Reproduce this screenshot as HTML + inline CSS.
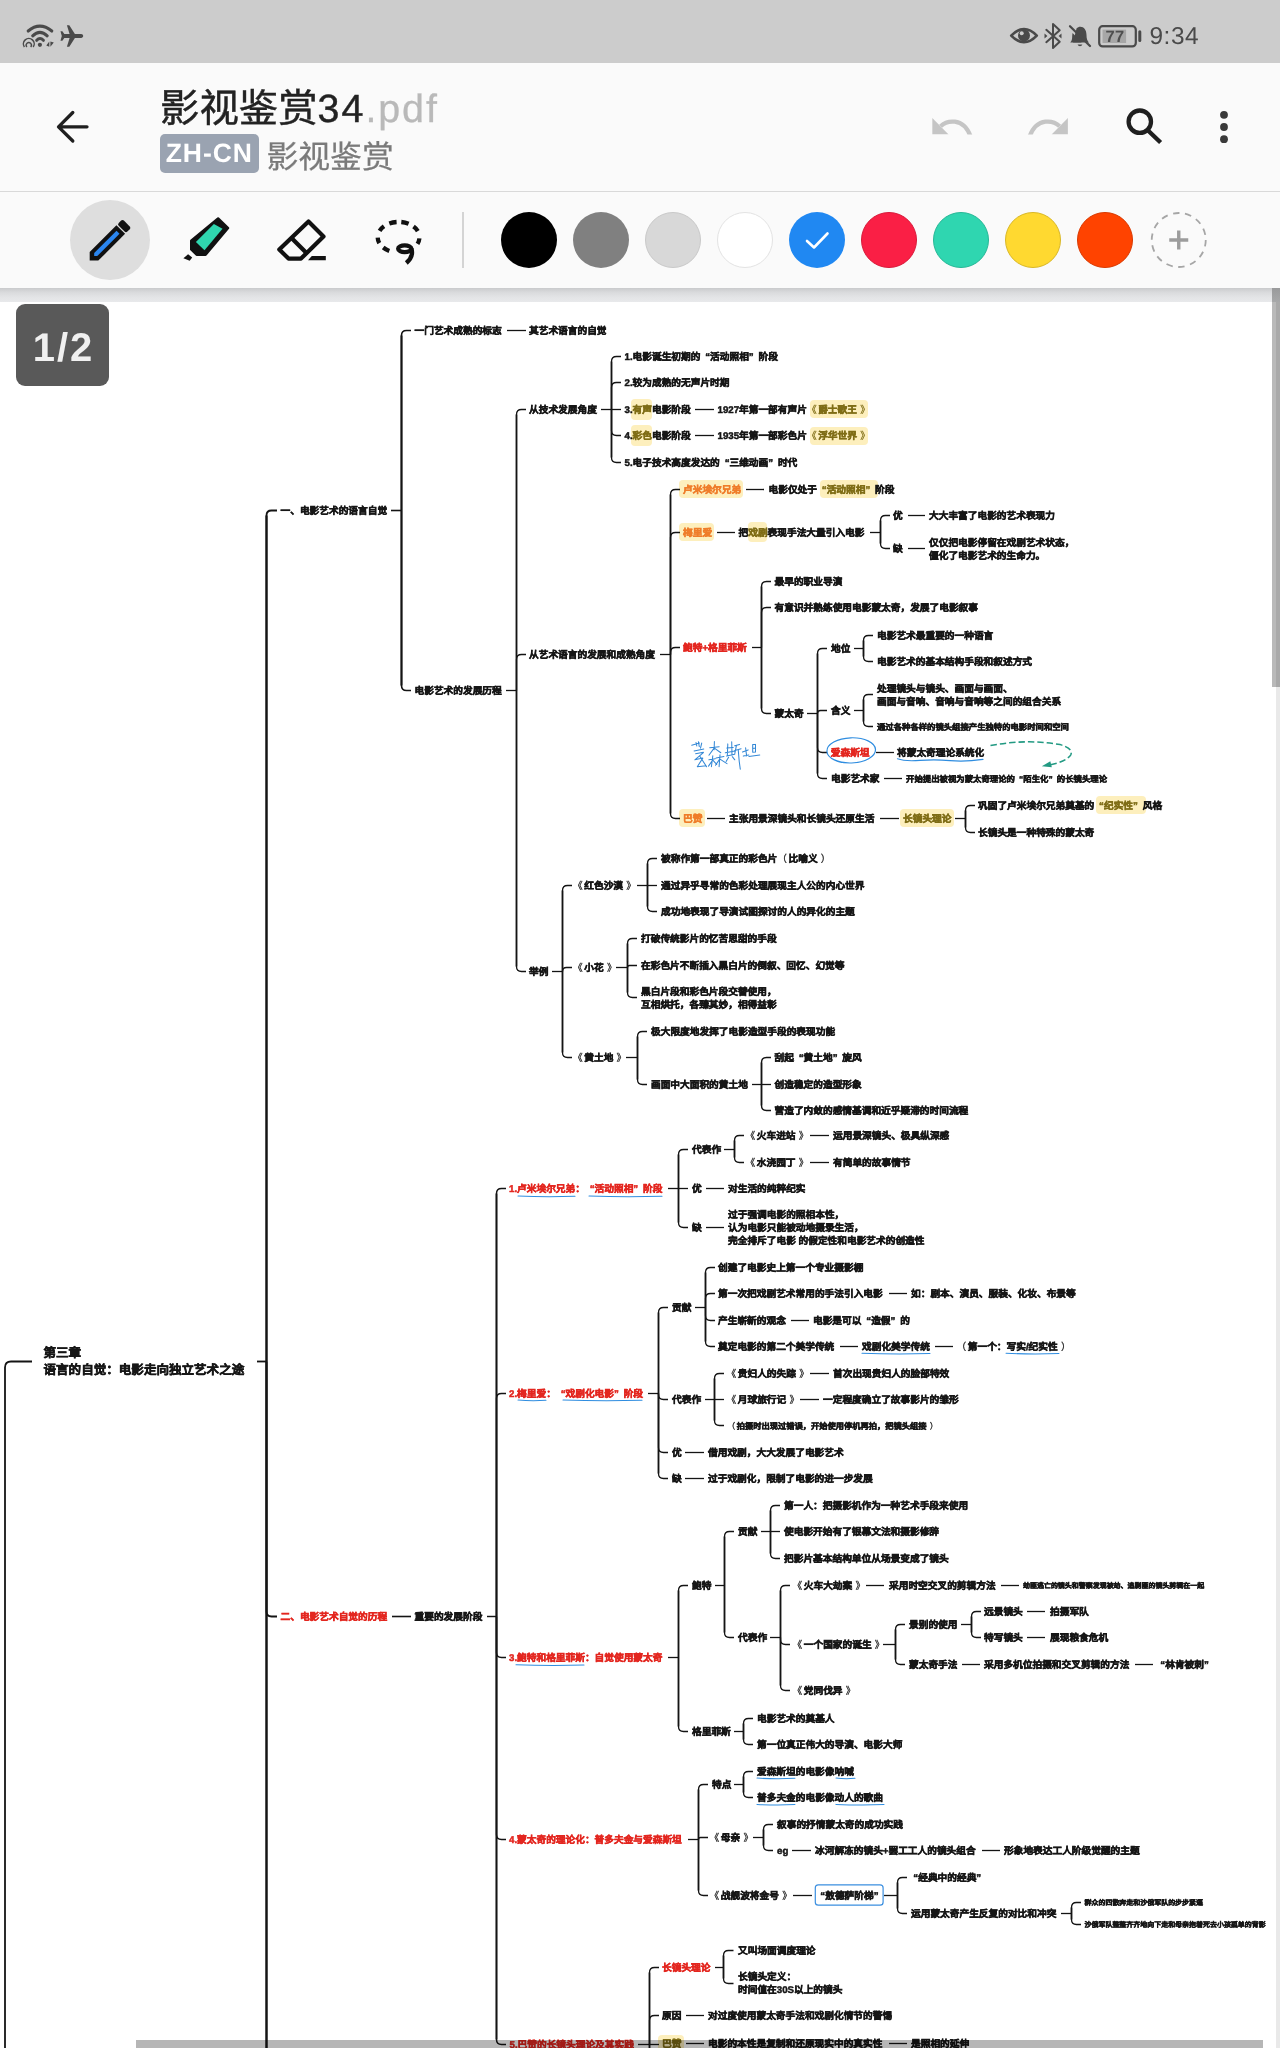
<!DOCTYPE html>
<html lang="zh-CN"><head><meta charset="utf-8"><title>影视鉴赏34.pdf</title>
<style>

*{margin:0;padding:0;box-sizing:border-box}
html,body{width:1280px;height:2048px;overflow:hidden;background:#fff;font-family:"Liberation Sans",sans-serif;text-rendering:geometricPrecision;-webkit-font-smoothing:antialiased}
#app{position:relative;width:1280px;height:2048px;overflow:hidden;background:#fff;will-change:transform}
.abs{position:absolute}
#status{left:0;top:0;width:1280px;height:63px;background:#cccccc}
#header{left:0;top:63px;width:1280px;height:128px;background:#fafafa}
#hsep{left:0;top:191px;width:1280px;height:1px;background:#d9d9d9}
#tools{left:0;top:192px;width:1280px;height:96px;background:#fafafa}
#shadow{left:0;top:288px;width:1280px;height:14px;background:linear-gradient(#c9cacc,#d9dadc 30%,#e3e4e6 65%,#e8e9eb)}
#title{left:160px;top:85px;font-size:39.4px;line-height:48px;color:#222;white-space:nowrap;-webkit-text-stroke:.45px #222}
#title .num{letter-spacing:2px}
.cj{display:inline-block;text-align:justify;text-align-last:justify;white-space:nowrap;vertical-align:top}
#title .ext{color:#b9b9b9;-webkit-text-stroke:.3px #b9b9b9;letter-spacing:1.9px}
#badge{left:160px;top:134px;width:98.5px;height:38.5px;border-radius:5px;background:#9aa3b1;color:#fff;font-weight:bold;font-size:26.5px;line-height:39px;text-align:center;letter-spacing:.9px}
#sub{left:266.5px;top:136.5px;font-size:31.8px;line-height:40px;color:#7a7a7a;white-space:nowrap;-webkit-text-stroke:.25px #7a7a7a}
#clock{left:1149.5px;top:20.3px;font-size:24.4px;line-height:34px;color:#4a4a4a;white-space:nowrap;letter-spacing:.55px}
.sw{position:absolute;top:212px;width:56px;height:56px;border-radius:50%}
#pageind{left:16px;top:304px;width:93px;height:81.5px;border-radius:9px;background:#595959;color:#f0f0f0;font-weight:bold;font-size:40px;line-height:81px;text-align:center;padding-top:3.5px;padding-left:2px;letter-spacing:1.9px}
#vthumb{left:1272px;top:288px;width:8px;height:399px;background:linear-gradient(90deg,#b9b9b9 0,#b9b9b9 50%,#a9a9a9 50%,#a9a9a9)}
#vtop{left:1272px;top:288px;width:8px;height:14px;background:linear-gradient(#999a9b,#a7a8a9)}
#vtrack{left:1276px;top:687px;width:4px;height:1361px;background:#e9e9e9}
#hthumb{left:136px;top:2040px;width:1127px;height:8px;background:rgba(0,0,0,.285)}


#page{left:0;top:301px;width:1276px;height:1747px;background:#fff}
.t{position:absolute;font-weight:bold;font-size:9.7px;line-height:13px;color:#161616;white-space:nowrap;letter-spacing:0;-webkit-text-stroke:.46px currentColor}
.rd{color:#e3261f}.or{color:#ef7d2a}.ol{color:#7f6d16}
.root{font-size:12.55px;line-height:17px}
.j{text-align:justify;text-align-last:justify}
.ql,.qr{display:inline-block;width:1em}.ql{text-align:right;text-align-last:right}.qr{text-align:left;text-align-last:left}
.bl,.br{font-weight:normal;-webkit-text-stroke:.25px currentColor}.bl{margin-right:1.6px}.br{margin-left:3.2px}
.hl{position:absolute;background:#fdefbd;border-radius:4px}

</style></head><body><div id="app">
<div id="page" class="abs"></div>
<div class="hl" style="left:631px;top:398.5px;width:21px;height:21px"></div>
<div class="hl" style="left:810px;top:400px;width:58px;height:18px"></div>
<div class="hl" style="left:631px;top:425.1px;width:21px;height:21px"></div>
<div class="hl" style="left:810px;top:426.6px;width:58px;height:18px"></div>
<div class="hl" style="left:679px;top:480px;width:64px;height:18px"></div>
<div class="hl" style="left:820px;top:480px;width:58px;height:18px"></div>
<div class="hl" style="left:679px;top:523px;width:35px;height:18px"></div>
<div class="hl" style="left:748px;top:522px;width:19px;height:20px"></div>
<div class="hl" style="left:679px;top:809px;width:26px;height:18px"></div>
<div class="hl" style="left:900px;top:809px;width:54px;height:18px"></div>
<div class="hl" style="left:1096px;top:796px;width:50px;height:18px"></div>
<div class="hl" style="left:658px;top:2034.5px;width:26px;height:17px"></div>
<svg class="abs" style="left:0;top:301px" width="1280" height="1747" viewBox="0 301 1280 1747" fill="none">
<g stroke="#141414" stroke-width="1.3" stroke-linejoin="round">
<path d="M32 1361.5H11Q5 1361.5 5 1367.5V2060" stroke-width="1.8"/>
<path d="M257 1361.5H266.5" stroke-width="1.8"/>
<path d="M266.5 515.5V2395.5" stroke-width="2.15"/>
<path d="M266.5 1361.5V515.5Q266.5 510.5 271.5 510.5H277" stroke-width="1.8"/>
<path d="M266.5 1361.5V1611.5Q266.5 1616.5 271.5 1616.5H277" stroke-width="1.8"/>
<path d="M266.5 1361.5V2395.5Q266.5 2400.5 271.5 2400.5H277" stroke-width="1.8"/>
<path d="M391 510.5H401.5" stroke-width="1.6"/>
<path d="M401.5 335.5V685.5" stroke-width="1.9500000000000002"/>
<path d="M401.5 510.5V335.5Q401.5 330.5 406.5 330.5H411" stroke-width="1.6"/>
<path d="M401.5 510.5V685.5Q401.5 690.5 406.5 690.5H411" stroke-width="1.6"/>
<path d="M507 330.5H526"/>
<path d="M506 690.5H516.5"/>
<path d="M516.5 414.5V966.5" stroke-width="1.65"/>
<path d="M516.5 690.5V414.5Q516.5 409.5 521.5 409.5H526"/>
<path d="M516.5 690.5V659.5Q516.5 654.5 521.5 654.5H526"/>
<path d="M516.5 690.5V966.5Q516.5 971.5 521.5 971.5H526"/>
<path d="M601 409.5H611.5"/>
<path d="M611.5 361.5V457.5" stroke-width="1.65"/>
<path d="M611.5 409.5V361.5Q611.5 356.5 616.5 356.5H621"/>
<path d="M611.5 409.5V387.5Q611.5 382.5 616.5 382.5H621"/>
<path d="M611.5 409.5H621"/>
<path d="M611.5 409.5V430.5Q611.5 435.5 616.5 435.5H621"/>
<path d="M611.5 409.5V457.5Q611.5 462.5 616.5 462.5H621"/>
<path d="M695 409.5H714"/>
<path d="M695 435.5H714"/>
<path d="M660 654.5H670.5"/>
<path d="M670.5 494.5V813.5" stroke-width="1.65"/>
<path d="M670.5 654.5V494.5Q670.5 489.5 675.5 489.5H680"/>
<path d="M670.5 654.5V537.5Q670.5 532.5 675.5 532.5H680"/>
<path d="M670.5 654.5V652.5Q670.5 647.5 675.5 647.5H680"/>
<path d="M670.5 654.5V813.5Q670.5 818.5 675.5 818.5H680"/>
<path d="M746 489.5H764"/>
<path d="M717 532.5H735"/>
<path d="M870 532.5H880.5"/>
<path d="M880.5 520.5V543.5" stroke-width="1.65"/>
<path d="M880.5 532.5V520.5Q880.5 515.5 885.5 515.5H890"/>
<path d="M880.5 532.5V543.5Q880.5 548.5 885.5 548.5H890"/>
<path d="M908 515.5H925"/>
<path d="M908 548.5H925"/>
<path d="M752 647.5H761.5"/>
<path d="M761.5 586.5V708.5" stroke-width="1.65"/>
<path d="M761.5 647.5V586.5Q761.5 581.5 766.5 581.5H771"/>
<path d="M761.5 647.5V612.5Q761.5 607.5 766.5 607.5H771"/>
<path d="M761.5 647.5V708.5Q761.5 713.5 766.5 713.5H771"/>
<path d="M807 713.5H817.5"/>
<path d="M817.5 653.5V773.5" stroke-width="1.65"/>
<path d="M817.5 713.5V653.5Q817.5 648.5 822.5 648.5H827"/>
<path d="M817.5 713.5V713.5Q817.5 710.5 820.5 710.5H827"/>
<path d="M817.5 713.5V747.5Q817.5 752.5 822.5 752.5H827"/>
<path d="M817.5 713.5V773.5Q817.5 778.5 822.5 778.5H827"/>
<path d="M854 648.5H863.5"/>
<path d="M863.5 640.5V656.5" stroke-width="1.65"/>
<path d="M863.5 648.5V640.5Q863.5 635.5 868.5 635.5H873"/>
<path d="M863.5 648.5V656.5Q863.5 661.5 868.5 661.5H873"/>
<path d="M854 710.5H863.5"/>
<path d="M863.5 699.5V721.5" stroke-width="1.65"/>
<path d="M863.5 710.5V699.5Q863.5 694.5 868.5 694.5H873"/>
<path d="M863.5 710.5V721.5Q863.5 726.5 868.5 726.5H873"/>
<path d="M876 752.5H894"/>
<path d="M884 778.5H902"/>
<path d="M707 818.5H725"/>
<path d="M880 818.5H899"/>
<path d="M955 818.5H965.5"/>
<path d="M965.5 810.5V827.5" stroke-width="1.65"/>
<path d="M965.5 818.5V810.5Q965.5 805.5 970.5 805.5H975"/>
<path d="M965.5 818.5V827.5Q965.5 832.5 970.5 832.5H975"/>
<path d="M552 971.5H562.5"/>
<path d="M562.5 890.5V1052.5" stroke-width="1.65"/>
<path d="M562.5 971.5V890.5Q562.5 885.5 567.5 885.5H572"/>
<path d="M562.5 971.5V971.5Q562.5 967.5 566.5 967.5H572"/>
<path d="M562.5 971.5V1052.5Q562.5 1057.5 567.5 1057.5H572"/>
<path d="M637 885.5H647.5"/>
<path d="M647.5 863.5V906.5" stroke-width="1.65"/>
<path d="M647.5 885.5V863.5Q647.5 858.5 652.5 858.5H657"/>
<path d="M647.5 885.5H657"/>
<path d="M647.5 885.5V906.5Q647.5 911.5 652.5 911.5H657"/>
<path d="M616 967.5H627.5"/>
<path d="M627.5 943.5V992.5" stroke-width="1.65"/>
<path d="M627.5 967.5V943.5Q627.5 938.5 632.5 938.5H637"/>
<path d="M627.5 967.5V967.5Q627.5 965.5 629.5 965.5H637"/>
<path d="M627.5 967.5V992.5Q627.5 997.5 632.5 997.5H637"/>
<path d="M626 1057.5H637.5"/>
<path d="M637.5 1036.5V1079.5" stroke-width="1.65"/>
<path d="M637.5 1057.5V1036.5Q637.5 1031.5 642.5 1031.5H647"/>
<path d="M637.5 1057.5V1079.5Q637.5 1084.5 642.5 1084.5H647"/>
<path d="M752 1084.5H761.5"/>
<path d="M761.5 1062.5V1105.5" stroke-width="1.65"/>
<path d="M761.5 1084.5V1062.5Q761.5 1057.5 766.5 1057.5H771"/>
<path d="M761.5 1084.5H771"/>
<path d="M761.5 1084.5V1105.5Q761.5 1110.5 766.5 1110.5H771"/>
<path d="M392 1616.5H411" stroke-width="1.6"/>
<path d="M487 1616.5H496.5" stroke-width="1.45"/>
<path d="M496.5 1193.5V2039.5" stroke-width="1.7999999999999998"/>
<path d="M496.5 1616.5V1193.5Q496.5 1188.5 501.5 1188.5H506" stroke-width="1.45"/>
<path d="M496.5 1616.5V1398.5Q496.5 1393.5 501.5 1393.5H506" stroke-width="1.45"/>
<path d="M496.5 1616.5V1652.5Q496.5 1657.5 501.5 1657.5H506" stroke-width="1.45"/>
<path d="M496.5 1616.5V1834.5Q496.5 1839.5 501.5 1839.5H506" stroke-width="1.45"/>
<path d="M496.5 1616.5V2039.5Q496.5 2044.5 501.5 2044.5H506" stroke-width="1.45"/>
<path d="M668 1188.5H678.5"/>
<path d="M678.5 1154.5V1222.5" stroke-width="1.65"/>
<path d="M678.5 1188.5V1154.5Q678.5 1149.5 683.5 1149.5H688"/>
<path d="M678.5 1188.5H688"/>
<path d="M678.5 1188.5V1222.5Q678.5 1227.5 683.5 1227.5H688"/>
<path d="M724 1149.5H734.5"/>
<path d="M734.5 1140.5V1157.5" stroke-width="1.65"/>
<path d="M734.5 1149.5V1140.5Q734.5 1135.5 739.5 1135.5H744"/>
<path d="M734.5 1149.5V1157.5Q734.5 1162.5 739.5 1162.5H744"/>
<path d="M810 1135.5H829"/>
<path d="M810 1162.5H829"/>
<path d="M706 1188.5H724"/>
<path d="M706 1227.5H724"/>
<path d="M648 1393.5H658.5"/>
<path d="M658.5 1312.5V1473.5" stroke-width="1.65"/>
<path d="M658.5 1393.5V1312.5Q658.5 1307.5 663.5 1307.5H668"/>
<path d="M658.5 1393.5V1394.5Q658.5 1399.5 663.5 1399.5H668"/>
<path d="M658.5 1393.5V1447.5Q658.5 1452.5 663.5 1452.5H668"/>
<path d="M658.5 1393.5V1473.5Q658.5 1478.5 663.5 1478.5H668"/>
<path d="M695 1307.5H705.5"/>
<path d="M705.5 1272.5V1341.5" stroke-width="1.65"/>
<path d="M705.5 1307.5V1272.5Q705.5 1267.5 710.5 1267.5H715"/>
<path d="M705.5 1307.5V1298.5Q705.5 1293.5 710.5 1293.5H715"/>
<path d="M705.5 1307.5V1315.5Q705.5 1320.5 710.5 1320.5H715"/>
<path d="M705.5 1307.5V1341.5Q705.5 1346.5 710.5 1346.5H715"/>
<path d="M889 1293.5H907"/>
<path d="M791 1320.5H809"/>
<path d="M840 1346.5H858"/>
<path d="M935 1346.5H953"/>
<path d="M705 1399.5H714.5"/>
<path d="M714.5 1378.5V1420.5" stroke-width="1.65"/>
<path d="M714.5 1399.5V1378.5Q714.5 1373.5 719.5 1373.5H724"/>
<path d="M714.5 1399.5H724"/>
<path d="M714.5 1399.5V1420.5Q714.5 1425.5 719.5 1425.5H724"/>
<path d="M810 1373.5H829"/>
<path d="M800 1399.5H819"/>
<path d="M685 1452.5H704"/>
<path d="M685 1478.5H704"/>
<path d="M668 1657.5H678.5"/>
<path d="M678.5 1590.5V1726.5" stroke-width="1.65"/>
<path d="M678.5 1657.5V1590.5Q678.5 1585.5 683.5 1585.5H688"/>
<path d="M678.5 1657.5V1726.5Q678.5 1731.5 683.5 1731.5H688"/>
<path d="M715 1585.5H724.5"/>
<path d="M724.5 1536.5V1632.5" stroke-width="1.65"/>
<path d="M724.5 1585.5V1536.5Q724.5 1531.5 729.5 1531.5H734"/>
<path d="M724.5 1585.5V1632.5Q724.5 1637.5 729.5 1637.5H734"/>
<path d="M761 1531.5H770.5"/>
<path d="M770.5 1510.5V1553.5" stroke-width="1.65"/>
<path d="M770.5 1531.5V1510.5Q770.5 1505.5 775.5 1505.5H780"/>
<path d="M770.5 1531.5H780"/>
<path d="M770.5 1531.5V1553.5Q770.5 1558.5 775.5 1558.5H780"/>
<path d="M770 1637.5H780.5"/>
<path d="M780.5 1590.5V1685.5" stroke-width="1.65"/>
<path d="M780.5 1637.5V1590.5Q780.5 1585.5 785.5 1585.5H790"/>
<path d="M780.5 1637.5V1639.5Q780.5 1644.5 785.5 1644.5H790"/>
<path d="M780.5 1637.5V1685.5Q780.5 1690.5 785.5 1690.5H790"/>
<path d="M866 1585.5H884"/>
<path d="M1001 1585.5H1019"/>
<path d="M883 1644.5H895.5"/>
<path d="M895.5 1629.5V1659.5" stroke-width="1.65"/>
<path d="M895.5 1644.5V1629.5Q895.5 1624.5 900.5 1624.5H905"/>
<path d="M895.5 1644.5V1659.5Q895.5 1664.5 900.5 1664.5H905"/>
<path d="M961 1624.5H971.5"/>
<path d="M971.5 1616.5V1632.5" stroke-width="1.65"/>
<path d="M971.5 1624.5V1616.5Q971.5 1611.5 976.5 1611.5H981"/>
<path d="M971.5 1624.5V1632.5Q971.5 1637.5 976.5 1637.5H981"/>
<path d="M1027 1611.5H1045"/>
<path d="M1027 1637.5H1045"/>
<path d="M962 1664.5H980"/>
<path d="M1135 1664.5H1153"/>
<path d="M734 1731.5H743.5"/>
<path d="M743.5 1723.5V1739.5" stroke-width="1.65"/>
<path d="M743.5 1731.5V1723.5Q743.5 1718.5 748.5 1718.5H753"/>
<path d="M743.5 1731.5V1739.5Q743.5 1744.5 748.5 1744.5H753"/>
<path d="M688 1839.5H698.5"/>
<path d="M698.5 1789.5V1890.5" stroke-width="1.65"/>
<path d="M698.5 1839.5V1789.5Q698.5 1784.5 703.5 1784.5H708"/>
<path d="M698.5 1839.5V1839.5Q698.5 1837.5 700.5 1837.5H708"/>
<path d="M698.5 1839.5V1890.5Q698.5 1895.5 703.5 1895.5H708"/>
<path d="M734 1784.5H743.5"/>
<path d="M743.5 1776.5V1792.5" stroke-width="1.65"/>
<path d="M743.5 1784.5V1776.5Q743.5 1771.5 748.5 1771.5H753"/>
<path d="M743.5 1784.5V1792.5Q743.5 1797.5 748.5 1797.5H753"/>
<path d="M753 1837.5H763.5"/>
<path d="M763.5 1829.5V1845.5" stroke-width="1.65"/>
<path d="M763.5 1837.5V1829.5Q763.5 1824.5 768.5 1824.5H773"/>
<path d="M763.5 1837.5V1845.5Q763.5 1850.5 768.5 1850.5H773"/>
<path d="M792 1850.5H811"/>
<path d="M982 1850.5H1000"/>
<path d="M793 1895.5H812"/>
<path d="M884 1895.5H897.5"/>
<path d="M897.5 1882.5V1908.5" stroke-width="1.65"/>
<path d="M897.5 1895.5V1882.5Q897.5 1877.5 902.5 1877.5H907"/>
<path d="M897.5 1895.5V1908.5Q897.5 1913.5 902.5 1913.5H907"/>
<path d="M1061 1913.5H1071.5"/>
<path d="M1071.5 1907.5V1919.5" stroke-width="1.65"/>
<path d="M1071.5 1913.5V1907.5Q1071.5 1902.5 1076.5 1902.5H1081"/>
<path d="M1071.5 1913.5V1919.5Q1071.5 1924.5 1076.5 1924.5H1081"/>
<path d="M638 2044.5H649.5"/>
<path d="M649.5 1972.5V2120.5" stroke-width="1.65"/>
<path d="M649.5 2044.5V1972.5Q649.5 1967.5 654.5 1967.5H659"/>
<path d="M649.5 2044.5V2020.5Q649.5 2015.5 654.5 2015.5H659"/>
<path d="M649.5 2044.5H659"/>
<path d="M649.5 2044.5V2120.5Q649.5 2125.5 654.5 2125.5H659"/>
<path d="M715 1967.5H723.5"/>
<path d="M723.5 1955.5V1978.5" stroke-width="1.65"/>
<path d="M723.5 1967.5V1955.5Q723.5 1950.5 728.5 1950.5H733.5"/>
<path d="M723.5 1967.5V1978.5Q723.5 1983.5 728.5 1983.5H733.5"/>
<path d="M686 2015.5H704"/>
<path d="M686 2043.5H704"/>
<path d="M889 2043.5H907"/>
</g>
<path d="M518 1196.1Q546.5 1197.2 575 1196.3" stroke="#2f8de0" stroke-width="1.05" stroke-linecap="round"/>
<path d="M589 1196.1Q625.5 1197.2 662 1196.3" stroke="#2f8de0" stroke-width="1.05" stroke-linecap="round"/>
<path d="M518 1400.1Q532 1401.2 546 1400.3" stroke="#2f8de0" stroke-width="1.05" stroke-linecap="round"/>
<path d="M563 1400.1Q602.5 1401.2 642 1400.3" stroke="#2f8de0" stroke-width="1.05" stroke-linecap="round"/>
<path d="M862 1353.3Q896 1354.4 930 1353.5" stroke="#2f8de0" stroke-width="1.05" stroke-linecap="round"/>
<path d="M1006 1353.3Q1032.5 1354.4 1059 1353.5" stroke="#2f8de0" stroke-width="1.05" stroke-linecap="round"/>
<path d="M516 1664.8Q550 1665.9 584 1665" stroke="#2f8de0" stroke-width="1.05" stroke-linecap="round"/>
<path d="M757 1778.1Q776 1779.2 795 1778.3" stroke="#2f8de0" stroke-width="1.05" stroke-linecap="round"/>
<path d="M836 1778.1Q845.5 1779.2 855 1778.3" stroke="#2f8de0" stroke-width="1.05" stroke-linecap="round"/>
<path d="M757 1804.4Q776 1805.5 795 1804.6" stroke="#2f8de0" stroke-width="1.05" stroke-linecap="round"/>
<path d="M836 1804.4Q860 1805.5 884 1804.6" stroke="#2f8de0" stroke-width="1.05" stroke-linecap="round"/>
<ellipse cx="851.2" cy="750.4" rx="24.3" ry="12.6" stroke="#2f8de0" stroke-width="1.2" transform="rotate(-2 851 750)"/><path d="M897.5 758.8Q905 761.6 920 760.4T950 760.6T983 759.4" stroke="#2f8de0" stroke-width="1.2" stroke-linecap="round"/><path d="M990.5 745.6Q1027 738.6 1060 744.6Q1073.5 748.5 1070.8 754.8Q1067 761 1050.5 764.8" stroke="#239a83" stroke-width="1.55" stroke-dasharray="6.4 3"/><path d="M1041.8 766.3L1050.3 761.3L1051.8 767.3Z" fill="#239a83"/><rect x="815.3" y="1884.8" width="67.8" height="20.4" rx="3" stroke="#3b8fe0" stroke-width="1.2" fill="#fff"/><path d="M691.7 745.2L699.5 743.1M698.4 741.7L699.3 746.6M701.7 743.1L700.5 748.1M696 742.5L696.8 746M694.1 750.9L703.8 749M695.6 753.7L703.4 752.3M703.4 752.7L694.8 759.8L702.8 758.1L697.3 766.7L706.2 765.8M699.5 755.8L706.6 766.7M714.4 741.6L714.1 749.7M709.7 747.7L719.2 746.7M714.1 748.1L708.9 755.2M714.4 748.1L720.8 752.7M712.8 755.8L711.4 766.7M708.9 759.8L715.3 758.8M712.7 760.1L708.5 766.1M712.8 760.1L716.7 764.4M720 754.8L719.1 766.7M716.1 758.1L723.9 756.6M719.7 759.1L715.5 765.2M720 759.1L727 763.6M727.8 743.9L727.3 755.9M731.7 741.7L732 755.2M726.9 748.1L733.3 747.5M725.3 752.8L734.8 751.1M726.7 756.1L734.8 754.2M728.6 757.3L726.1 761.4M732.3 756.7L734.8 759.8M734.7 745.8L739.5 744.4M736.4 745.6L734.8 753.6M734.7 750.5L741.1 748.8M738.2 749.5L739.2 761.2L740.3 769.2M742.5 752L748.1 749.9M745.6 747.8L746.6 755.9M743.3 756.1L748.9 755M752.7 744.5L755.5 744.4L755.5 752L752.7 752.2L752.7 744.5M752.7 748.4L755.5 748M748.9 756.4L759.8 755" stroke="#3488d6" stroke-width="1.05" stroke-linecap="round" stroke-linejoin="round"/>
</svg>
<div class="t root j" style="left:43.5px;top:1345px;width:37.66px">第三章</div>
<div class="t root j" style="left:43.5px;top:1362px;width:200.77px">语言的自觉：电影走向独立艺术之途</div>
<div class="t j" style="left:280.5px;top:504.5px;width:106.58px">一、电影艺术的语言自觉</div>
<div class="t j" style="left:414.5px;top:324.5px;width:87.21px">一门艺术成熟的标志</div>
<div class="t j" style="left:529px;top:324.5px;width:77.52px">其艺术语言的自觉</div>
<div class="t j" style="left:414.5px;top:684.5px;width:87.21px">电影艺术的发展历程</div>
<div class="t j" style="left:529px;top:403.5px;width:67.83px">从技术发展角度</div>
<div class="t j" style="left:624.5px;top:350.5px;width:153.43px">1.电影诞生初期的<span class="ql">“</span>活动照相<span class="qr">”</span>阶段</div>
<div class="t j" style="left:624.5px;top:377px;width:104.99px">2.较为成熟的无声片时期</div>
<div class="t j" style="left:624.5px;top:403.5px;width:66.24px">3.<span class="ol">有声</span>电影阶段</div>
<div class="t j" style="left:717.5px;top:403.5px;width:152.3px">1927年第一部有声片<span class="ol"><span class="bl">《</span>爵士歌王<span class="br">》</span></span></div>
<div class="t j" style="left:624.5px;top:430.1px;width:66.24px">4.<span class="ol">彩色</span>电影阶段</div>
<div class="t j" style="left:717.5px;top:430.1px;width:152.3px">1935年第一部彩色片<span class="ol"><span class="bl">《</span>浮华世界<span class="br">》</span></span></div>
<div class="t j" style="left:624.5px;top:456.5px;width:172.8px">5.电子技术高度发达的<span class="ql">“</span>三维动画<span class="qr">”</span>时代</div>
<div class="t j" style="left:529px;top:648.5px;width:125.96px">从艺术语言的发展和成熟角度</div>
<div class="t or j" style="left:683px;top:483.5px;width:58.15px">卢米埃尔兄弟</div>
<div class="t j" style="left:768.5px;top:483.5px;width:125.96px">电影仅处于<span class="ol"><span class="ql">“</span>活动照相<span class="qr">”</span></span>阶段</div>
<div class="t or j" style="left:683px;top:526.5px;width:29.08px">梅里爱</div>
<div class="t j" style="left:738.5px;top:526.5px;width:125.96px">把<span class="ol">戏剧</span>表现手法大量引入电影</div>
<div class="t" style="left:893px;top:509.5px">优</div>
<div class="t j" style="left:929px;top:509.5px;width:125.96px">大大丰富了电影的艺术表现力</div>
<div class="t" style="left:893px;top:542.5px">缺</div>
<div class="t j" style="left:929px;top:536.5px;width:145.33px">仅仅把电影停留在戏剧艺术状态，</div>
<div class="t j" style="left:929px;top:549.5px;width:116.27px">僵化了电影艺术的生命力。</div>
<div class="t rd j" style="left:683px;top:641.5px;width:63.82px">鲍特+格里菲斯</div>
<div class="t j" style="left:774.5px;top:575.5px;width:67.83px">最早的职业导演</div>
<div class="t j" style="left:774.5px;top:602.1px;width:203.46px">有意识并熟练使用电影蒙太奇，发展了电影叙事</div>
<div class="t j" style="left:774.5px;top:707.5px;width:29.08px">蒙太奇</div>
<div class="t j" style="left:831px;top:642.5px;width:19.39px">地位</div>
<div class="t j" style="left:877px;top:629.5px;width:116.27px">电影艺术最重要的一种语言</div>
<div class="t j" style="left:877px;top:655.5px;width:155.02px">电影艺术的基本结构手段和叙述方式</div>
<div class="t j" style="left:831px;top:704.5px;width:19.39px">含义</div>
<div class="t j" style="left:877px;top:682.5px;width:135.65px">处理镜头与镜头、画面与画面、</div>
<div class="t j" style="left:877px;top:695.5px;width:184.08px">画面与音响、音响与音响等之间的组合关系</div>
<div class="t j" style="left:877px;top:720.5px;font-size:8.35px;width:191.93px">通过各种各样的镜头组接产生独特的电影时间和空间</div>
<div class="t rd j" style="left:830.8px;top:746.5px;width:38.77px">爱森斯坦</div>
<div class="t j" style="left:897px;top:746.5px;width:87.21px">将蒙太奇理论系统化</div>
<div class="t j" style="left:831px;top:772.5px;width:48.46px">电影艺术家</div>
<div class="t j" style="left:906px;top:772.5px;font-size:8.38px;width:201.02px">开始提出被视为蒙太奇理论的<span class="ql">“</span>陌生化<span class="qr">”</span>的长镜头理论</div>
<div class="t or j" style="left:683px;top:812.5px;width:19.39px">巴赞</div>
<div class="t j" style="left:729px;top:812.5px;width:145.33px">主张用景深镜头和长镜头还原生活</div>
<div class="t ol j" style="left:903px;top:812.5px;width:48.46px">长镜头理论</div>
<div class="t j" style="left:978px;top:799.5px;width:184.08px">巩固了卢米埃尔兄弟奠基的<span class="ol"><span class="ql">“</span>纪实性<span class="qr">”</span></span>风格</div>
<div class="t j" style="left:978px;top:826.5px;width:116.27px">长镜头是一种特殊的蒙太奇</div>
<div class="t j" style="left:529px;top:965.5px;width:19.39px">举例</div>
<div class="t j" style="left:573px;top:879.5px;width:62.93px"><span class="bl">《</span>红色沙漠<span class="br">》</span></div>
<div class="t j" style="left:661px;top:852.5px;width:169.49px">被称作第一部真正的彩色片<span class="bl">（</span>比喻义<span class="br">）</span></div>
<div class="t j" style="left:661px;top:879.5px;width:203.46px">通过异乎寻常的色彩处理展现主人公的内心世界</div>
<div class="t j" style="left:661px;top:906.1px;width:193.77px">成功地表现了导演试图探讨的人的异化的主题</div>
<div class="t j" style="left:573px;top:962.2px;width:43.55px"><span class="bl">《</span>小花<span class="br">》</span></div>
<div class="t j" style="left:641px;top:932.5px;width:135.65px">打破传统影片的忆苦思甜的手段</div>
<div class="t j" style="left:641px;top:959.5px;width:203.46px">在彩色片不断插入黑白片的倒叙、回忆、幻觉等</div>
<div class="t j" style="left:641px;top:985.5px;width:135.65px">黑白片段和彩色片段交替使用，</div>
<div class="t j" style="left:641px;top:998.5px;width:135.65px">互相烘托，各臻其妙，相得益彰</div>
<div class="t j" style="left:573px;top:1051.5px;width:53.24px"><span class="bl">《</span>黄土地<span class="br">》</span></div>
<div class="t j" style="left:651px;top:1025.5px;width:184.08px">极大限度地发挥了电影造型手段的表现功能</div>
<div class="t j" style="left:651px;top:1078.5px;width:96.89px">画面中大面积的黄土地</div>
<div class="t j" style="left:774.5px;top:1051.5px;width:87.21px">刮起<span class="ql">“</span>黄土地<span class="qr">”</span>旋风</div>
<div class="t j" style="left:774.5px;top:1078.5px;width:87.21px">创造稳定的造型形象</div>
<div class="t j" style="left:774.5px;top:1104.5px;width:193.77px">营造了内敛的感情基调和近乎疑滞的时间流程</div>
<div class="t rd j" style="left:280.5px;top:1610.5px;width:106.58px">二、电影艺术自觉的历程</div>
<div class="t j" style="left:414.5px;top:1610.5px;width:67.83px">重要的发展阶段</div>
<div class="t rd j" style="left:509px;top:1183px;width:153.43px">1.卢米埃尔兄弟：<span class="ql">“</span>活动照相<span class="qr">”</span>阶段</div>
<div class="t j" style="left:692px;top:1143.5px;width:29.08px">代表作</div>
<div class="t j" style="left:745.5px;top:1129.5px;width:62.93px"><span class="bl">《</span>火车进站<span class="br">》</span></div>
<div class="t j" style="left:833px;top:1129.5px;width:116.27px">运用景深镜头、极具纵深感</div>
<div class="t j" style="left:745.5px;top:1156.5px;width:62.93px"><span class="bl">《</span>水浇园丁<span class="br">》</span></div>
<div class="t j" style="left:833px;top:1156.5px;width:77.52px">有简单的故事情节</div>
<div class="t" style="left:692px;top:1182.7px">优</div>
<div class="t j" style="left:728px;top:1182.7px;width:77.52px">对生活的纯粹纪实</div>
<div class="t" style="left:692px;top:1221.5px">缺</div>
<div class="t j" style="left:728px;top:1209px;width:116.27px">过于强调电影的照相本性，</div>
<div class="t j" style="left:728px;top:1222px;width:135.65px">认为电影只能被动地摄录生活，</div>
<div class="t j" style="left:728px;top:1235px;width:196.47px">完全排斥了电影 的假定性和电影艺术的创造性</div>
<div class="t rd j" style="left:509px;top:1387.5px;width:134.05px">2.梅里爱：<span class="ql">“</span>戏剧化电影<span class="qr">”</span>阶段</div>
<div class="t j" style="left:672px;top:1301.5px;width:19.39px">贡献</div>
<div class="t j" style="left:718px;top:1261.5px;width:145.33px">创建了电影史上第一个专业摄影棚</div>
<div class="t j" style="left:718px;top:1287.9px;width:164.71px">第一次把戏剧艺术常用的手法引入电影</div>
<div class="t j" style="left:911px;top:1287.9px;width:164.71px">如：剧本、演员、服装、化妆、布景等</div>
<div class="t j" style="left:718px;top:1314.5px;width:67.83px">产生崭新的观念</div>
<div class="t j" style="left:813px;top:1314.5px;width:96.89px">电影是可以<span class="ql">“</span>造假<span class="qr">”</span>的</div>
<div class="t j" style="left:718px;top:1340.9px;width:116.27px">奠定电影的第二个美学传统</div>
<div class="t j" style="left:862px;top:1340.9px;width:67.83px">戏剧化美学传统</div>
<div class="t j" style="left:956.5px;top:1340.9px;width:114.07px"><span class="bl">（</span>第一个：写实/纪实性<span class="br">）</span></div>
<div class="t j" style="left:672px;top:1393.5px;width:29.08px">代表作</div>
<div class="t j" style="left:726.5px;top:1367.5px;width:82.3px"><span class="bl">《</span>贵妇人的失踪<span class="br">》</span></div>
<div class="t j" style="left:833px;top:1367.5px;width:116.27px">首次出现贵妇人的脸部特效</div>
<div class="t j" style="left:726.5px;top:1393.5px;width:72.61px"><span class="bl">《</span>月球旅行记<span class="br">》</span></div>
<div class="t j" style="left:823px;top:1393.5px;width:135.65px">一定程度确立了故事影片的雏形</div>
<div class="t j" style="left:727px;top:1419.7px;font-size:8.25px;width:211.05px"><span class="bl">（</span>拍摄时出现过错误，开始使用停机再拍，把镜头组接<span class="br">）</span></div>
<div class="t" style="left:672px;top:1446.5px">优</div>
<div class="t j" style="left:708px;top:1446.5px;width:135.65px">借用戏剧，大大发展了电影艺术</div>
<div class="t" style="left:672px;top:1472.5px">缺</div>
<div class="t j" style="left:708px;top:1472.5px;width:164.71px">过于戏剧化，限制了电影的进一步发展</div>
<div class="t rd j" style="left:509px;top:1651.5px;width:153.41px">3.鲍特和格里菲斯：自觉使用蒙太奇</div>
<div class="t j" style="left:692px;top:1579.5px;width:19.39px">鲍特</div>
<div class="t j" style="left:738px;top:1526px;width:19.39px">贡献</div>
<div class="t j" style="left:784px;top:1499.5px;width:184.08px">第一人：把摄影机作为一种艺术手段来使用</div>
<div class="t j" style="left:784px;top:1526px;width:155.02px">使电影开始有了银幕文法和摄影修辞</div>
<div class="t j" style="left:784px;top:1552.5px;width:164.71px">把影片基本结构单位从场景变成了镜头</div>
<div class="t j" style="left:738px;top:1631.5px;width:29.08px">代表作</div>
<div class="t j" style="left:792.5px;top:1579.5px;width:72.61px"><span class="bl">《</span>火车大劫案<span class="br">》</span></div>
<div class="t j" style="left:889px;top:1579.5px;width:106.58px">采用时空交叉的剪辑方法</div>
<div class="t j" style="left:1023px;top:1579.5px;font-size:6.97px;width:181.21px">劫匪逃亡的镜头和警察发现被劫、追剿匪的镜头剪辑在一起</div>
<div class="t j" style="left:792.5px;top:1638.5px;width:91.99px"><span class="bl">《</span>一个国家的诞生<span class="br">》</span></div>
<div class="t j" style="left:909px;top:1618.5px;width:48.46px">景别的使用</div>
<div class="t j" style="left:984px;top:1605.5px;width:38.77px">远景镜头</div>
<div class="t j" style="left:1050px;top:1605.5px;width:38.77px">拍摄军队</div>
<div class="t j" style="left:984px;top:1631.5px;width:38.77px">特写镜头</div>
<div class="t j" style="left:1050px;top:1631.5px;width:58.15px">展现粮食危机</div>
<div class="t j" style="left:909px;top:1658.5px;width:48.46px">蒙太奇手法</div>
<div class="t j" style="left:984px;top:1658.5px;width:145.33px">采用多机位拍摄和交叉剪辑的方法</div>
<div class="t j" style="left:1155.5px;top:1658.5px;width:58.15px"><span class="ql">“</span>林肯被刺<span class="qr">”</span></div>
<div class="t j" style="left:792.5px;top:1684.5px;width:62.93px"><span class="bl">《</span>党同伐异<span class="br">》</span></div>
<div class="t j" style="left:692px;top:1725.5px;width:38.77px">格里菲斯</div>
<div class="t j" style="left:757px;top:1712.5px;width:77.52px">电影艺术的奠基人</div>
<div class="t j" style="left:757px;top:1738.9px;width:145.33px">第一位真正伟大的导演、电影大师</div>
<div class="t rd j" style="left:509px;top:1833.5px;width:172.79px">4.蒙太奇的理论化：普多夫金与爱森斯坦</div>
<div class="t j" style="left:712px;top:1778.5px;width:19.39px">特点</div>
<div class="t j" style="left:757px;top:1765.5px;width:96.89px">爱森斯坦的电影像呐喊</div>
<div class="t j" style="left:757px;top:1791.9px;width:125.96px">普多夫金的电影像动人的歌曲</div>
<div class="t j" style="left:709.5px;top:1831.9px;width:43.55px"><span class="bl">《</span>母亲<span class="br">》</span></div>
<div class="t j" style="left:777px;top:1818.5px;width:125.96px">叙事的抒情蒙太奇的成功实践</div>
<div class="t" style="left:777px;top:1844.9px">eg</div>
<div class="t j" style="left:815px;top:1844.9px;width:160.68px">冰河解冻的镜头+罢工工人的镜头组合</div>
<div class="t j" style="left:1004px;top:1844.9px;width:135.65px">形象地表达工人阶级觉醒的主题</div>
<div class="t j" style="left:709.5px;top:1889.5px;width:82.3px"><span class="bl">《</span>战舰波将金号<span class="br">》</span></div>
<div class="t j" style="left:815.5px;top:1889.5px;width:67.83px"><span class="ql">“</span>敖德萨阶梯<span class="qr">”</span></div>
<div class="t j" style="left:908.5px;top:1872px;width:77.52px"><span class="ql">“</span>经典中的经典<span class="qr">”</span></div>
<div class="t j" style="left:911px;top:1908px;width:145.33px">运用蒙太奇产生反复的对比和冲突</div>
<div class="t j" style="left:1084.5px;top:1896.5px;font-size:6.97px;width:118.49px">群众的四散奔走和沙俄军队的步步紧逼</div>
<div class="t j" style="left:1084.5px;top:1919.1px;font-size:6.97px;width:181.21px">沙俄军队整整齐齐地向下走和母亲抱着死去小孩孤单的背影</div>
<div class="t rd j" style="left:509.5px;top:2038.5px;width:124.36px">5.巴赞的长镜头理论及其实践</div>
<div class="t rd j" style="left:662px;top:1961.5px;width:48.46px">长镜头理论</div>
<div class="t j" style="left:738px;top:1944.5px;width:77.52px">又叫场面调度理论</div>
<div class="t j" style="left:738px;top:1971.1px;width:58.15px">长镜头定义：</div>
<div class="t j" style="left:738px;top:1984.1px;width:104.46px">时间值在30S以上的镜头</div>
<div class="t j" style="left:662px;top:2009.9px;width:19.39px">原因</div>
<div class="t j" style="left:708px;top:2009.9px;width:184.08px">对过度使用蒙太奇手法和戏剧化情节的警惕</div>
<div class="t ol j" style="left:662px;top:2037.5px;width:19.39px">巴赞</div>
<div class="t j" style="left:708px;top:2037.5px;width:174.4px">电影的本性是复制和还原现实中的真实性</div>
<div class="t j" style="left:911px;top:2037.5px;width:58.15px">是照相的延伸</div>
<div id="status" class="abs"></div>
<svg class="abs" style="left:0;top:0" width="1280" height="63" viewBox="0 0 1280 63" fill="none">
<g stroke="#4a4a4a" stroke-linecap="round" fill="none">
<path d="M28.2 31 Q39.8 21.4 51.8 31" stroke-width="3.1"/>
<path d="M32.7 35.8 Q39.9 29 47.2 35.8" stroke-width="3.1"/>
<path d="M36.7 40.3 Q40 36.6 43.4 40.3" stroke-width="3"/>
<path d="M24.4 47 A5.4 5.4 0 1 1 33.2 47" stroke-width="1.5" stroke-linecap="butt"/>
<path d="M26.9 47 A2.6 2.6 0 1 1 30.7 47" stroke-width="1.4" stroke-linecap="butt"/>
</g>
<circle cx="39.9" cy="44.8" r="2.1" fill="#4a4a4a"/>
<path d="M46.3 45.6 L49.3 41.4 L49.3 46.8 Z M50.4 41.4 L53.8 42.4 L50.4 46.8 Z" fill="#4a4a4a"/>
<path d="M83.2 36 c0-1.1-.9-1.9-2-1.9 h-6.3 l-5.6-8.9 h-2.4 l2.7 8.9 h-5.3 l-1.9-2.9 h-1.9 l1.3 4.8 l-1.3 4.8 h1.9 l1.9-2.9 h5.3 l-2.7 8.9 h2.4 l5.6-8.9 h6.3 c1.1 0 2-.8 2-1.9z" fill="#4a4a4a"/>
<path d="M1011.2 35.6 Q1024 22.4 1036.8 35.6 Q1024 48.8 1011.2 35.6Z" stroke="#4a4a4a" stroke-width="2.6" stroke-linejoin="round"/>
<circle cx="1024" cy="35.6" r="6" fill="#4a4a4a"/>
<circle cx="1021.7" cy="33.3" r="2" fill="#cccccc"/>
<path d="M1046.3 29.8 L1059.7 41.8 L1053 48 L1053 24 L1059.7 30.2 L1046.3 42.2" stroke="#4a4a4a" stroke-width="2" stroke-linejoin="round" stroke-linecap="round"/>
<path d="M1044.5 33.4 l2.9 2.6 l-2.9 2.6z M1061.5 33.4 l-2.9 2.6 l2.9 2.6z" fill="#4a4a4a"/>
<path d="M1073 42.5 h16 c-1.7-1.5-2.5-3.5-2.5-7.4 c0-5.2-2.6-8.3-6.1-8.3 c-1.5 0-2.8 .6-3.8 1.5 z" fill="#4a4a4a"/>
<path d="M1072.6 33 c-.2 1-.4 2-.4 3.2 c0 2.9-.5 4.7-1.9 6.3 h11.3z" fill="#4a4a4a"/>
<path d="M1077.6 44.4 a2.5 2.5 0 0 0 4.8 0z" fill="#4a4a4a"/>
<path d="M1070 26.2 L1090 46" stroke="#4a4a4a" stroke-width="2.3" stroke-linecap="round"/>
<rect x="1099.2" y="26.2" width="36.6" height="20.2" rx="3.5" stroke="#4a4a4a" stroke-width="2.2"/>
<rect x="1102.5" y="29.6" width="23.6" height="13.4" fill="#a7a7a7"/>
<rect x="1138.3" y="30.3" width="3" height="11.8" rx="1.5" fill="#4a4a4a"/>
</svg>
<div class="abs" style="left:1105.5px;top:26.5px;width:24px;font-size:16.5px;line-height:20px;color:#4f4f4f;letter-spacing:.2px;white-space:nowrap;font-weight:bold">77</div>
<div id="clock" class="abs">9:34</div>
<div id="header" class="abs"></div><div id="hsep" class="abs"></div><div id="tools" class="abs"></div>
<div id="title" class="abs"><span class="cj" style="width:157.6px">影视鉴赏</span><span class="num">34</span><span class="ext">.pdf</span></div>
<div id="badge" class="abs">ZH-CN</div><div id="sub" class="abs"><span class="cj" style="width:127.2px">影视鉴赏</span></div>
<svg class="abs" style="left:0;top:63px" width="1280" height="127" viewBox="0 63 1280 127" fill="none">
<path d="M87 126.8 H59.5 M72.8 112.5 L58.5 126.8 L72.8 141" stroke="#1f1f1f" stroke-width="3.3" stroke-linecap="round" stroke-linejoin="round"/>
<path d="M932.3 118 V134.5 H948.6 Z" fill="#c5c5c5"/>
<path d="M940.6 126.3 C946 121 963 116 970.6 136.5" stroke="#c5c5c5" stroke-width="4.3"/>
<path d="M1067.9 118 V134.5 H1051.6 Z" fill="#c5c5c5"/>
<path d="M1059.6 126.3 C1054.2 121 1037.2 116 1029.6 136.5" stroke="#c5c5c5" stroke-width="4.3"/>
<rect x="925" y="134.5" width="150" height="5" fill="#fafafa"/>
<circle cx="1139.8" cy="121.7" r="11.2" stroke="#1f1f1f" stroke-width="4.3"/>
<path d="M1147.8 130.3 L1159 141" stroke="#1f1f1f" stroke-width="4.4" stroke-linecap="square"/>
<circle cx="1224" cy="114.8" r="3.9" fill="#3a3a3a"/><circle cx="1224" cy="127" r="3.9" fill="#3a3a3a"/><circle cx="1224" cy="139.2" r="3.9" fill="#3a3a3a"/>
</svg>
<svg class="abs" style="left:0;top:191px" width="1280" height="97" viewBox="0 191 1280 97" fill="none">
<circle cx="110" cy="240" r="40" fill="#dedede"/>
<g transform="translate(108.25 242.05) rotate(45)">
<rect x="-6.1" y="-26.25" width="12.2" height="7.3" rx="2" fill="#111"/>
<path d="M-6.1 -17.7 H6.1 V20.15 L0 26.25 L-6.1 20.15 Z" fill="#111"/>
<path d="M-2.15 -13.8 H2.15 V17.7 L0 19.85 L-2.15 17.7 Z" fill="#2b86f0"/>
</g>
<path d="M218.1 218.4L228.1 228.1L205.6 254.7L196.6 254.7L191.2 249.4L191.2 240.6Z" fill="#111" stroke="#111" stroke-width="2.4" stroke-linejoin="round"/>
<path d="M213.9 224.1L222.5 228.8L204.5 250.3L195.9 241.9Z" fill="#2fd6af"/>
<path d="M183.4 258.3L188.1 254.2L192.2 257.5L189.7 260.8Z" fill="#111"/>
<g stroke="#111" stroke-width="4.2" stroke-linejoin="round" stroke-linecap="round">
<path d="M308.5 221.5 L323.5 236.5 L301 258.6 H288.5 L279.3 249.4 Z"/>
<path d="M292 238.5 L305.5 252"/>
</g>
<path d="M311.8 256 H325.8 V260.2 H308 Z" fill="#111"/>
<path d="M419.4 238.4A20.9 15.3 0 0 1 417.5 243.8M413.5 226.5A20.9 15.3 0 0 1 417.8 231.1M401.3 222A20.9 15.3 0 0 1 408.6 223.8M389.3 223.5A20.9 15.3 0 0 1 396.6 222M379.6 230.9A20.9 15.3 0 0 1 384 226.3M379.3 243.1A20.9 15.3 0 0 1 377.7 237.6M389.3 250.9A20.9 15.3 0 0 1 383.2 247.5" stroke="#111" stroke-width="4.3"/>
<ellipse cx="404.7" cy="248.8" rx="6.6" ry="3.4" stroke="#111" stroke-width="4.2"/>
<path d="M411.4 248.5 Q413.9 256.5 406.3 263" stroke="#111" stroke-width="4.3"/>
<rect x="462" y="212" width="2" height="56" fill="#d4d4d4"/>
</svg>
<div class="sw" style="left:500.75px;background:#000000"></div>
<div class="sw" style="left:572.75px;background:#808080"></div>
<div class="sw" style="left:644.75px;background:#d8d8d8;border:1px solid #c9c9c9"></div>
<div class="sw" style="left:716.75px;background:#ffffff;border:1px solid #e3e3e3"></div>
<div class="sw" style="left:788.75px;background:#2088f2"></div>
<div class="sw" style="left:860.75px;background:#fa1f45;border:1px solid #d81a3a"></div>
<div class="sw" style="left:932.75px;background:#2fd6b0;border:1px solid #27b796"></div>
<div class="sw" style="left:1004.75px;background:#ffd930;border:1px solid #d8b727"></div>
<div class="sw" style="left:1076.75px;background:#ff4300;border:1px solid #d83900"></div>
<svg class="abs" style="left:780px;top:205px" width="440" height="70" viewBox="780 205 440 70" fill="none">
<path d="M807 241 L814 247.5 L827.5 233.5" stroke="#fff" stroke-width="2.6" stroke-linecap="round" stroke-linejoin="round"/>
<circle cx="1178.75" cy="240" r="27" stroke="#a6a6a6" stroke-width="1.8" stroke-dasharray="6.5 5.6"/>
<path d="M1178.75 230.5 V249.5 M1169.25 240 H1188.25" stroke="#9c9c9c" stroke-width="3.4"/>
</svg>
<div id="shadow" class="abs"></div>
<div id="vtrack" class="abs"></div><div id="vthumb" class="abs"></div><div id="vtop" class="abs"></div><div id="pageind" class="abs">1/2</div><div id="hthumb" class="abs"></div>
</div></body></html>
